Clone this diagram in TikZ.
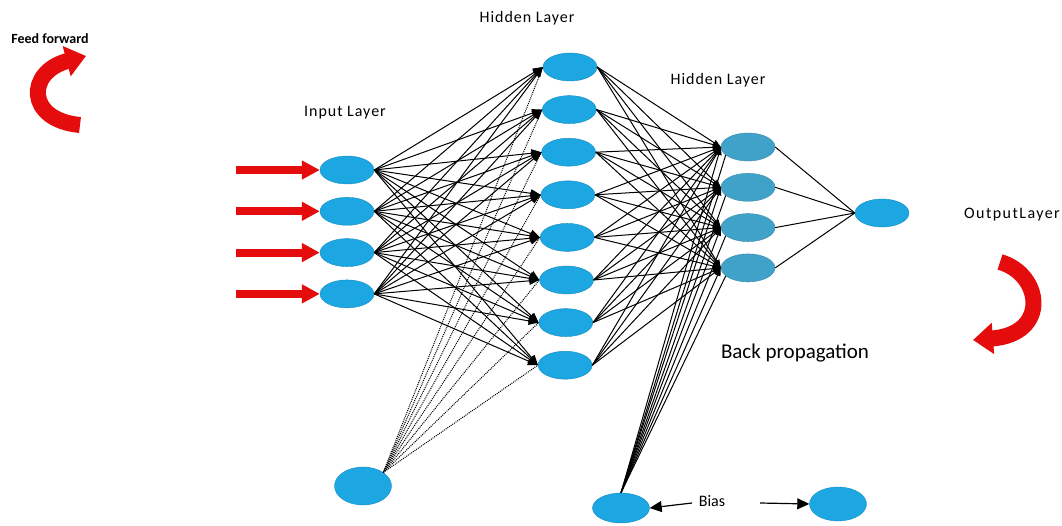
\documentclass[tikz,border=0pt]{standalone}
\usepackage{fontspec}
\setmainfont{Carlito}
\newfontfamily\spacedfont[LetterSpace=6]{Carlito}
\newfontfamily\widefont[LetterSpace=9]{Carlito}
\usetikzlibrary{arrows.meta,shapes.geometric}

\definecolor{neuronblue}{RGB}{28,166,226}
\definecolor{neuronteal}{RGB}{64,162,200}
\definecolor{flowred}{RGB}{228,12,12}

\tikzset{
  neuron/.style={ellipse, fill=neuronblue, draw=neuronblue!85!black, line width=0.4pt,
    minimum width=54pt, minimum height=28pt, inner sep=0pt},
  neurondark/.style={neuron, fill=neuronteal, draw=neuronteal!85!black},
  biasneuron/.style={neuron, minimum width=57pt, minimum height=34pt},
  layerlabel/.style={font=\spacedfont\fontsize{16}{18}\selectfont},
  link/.style={black, line width=1pt},
  linkarrow/.style={link, -{Triangle[width=8pt,length=10pt]}},
  smallarrow/.style={link, -{Triangle[width=6pt,length=8pt]}},
  inarrow/.style={flowred, line width=8pt, -{Triangle[width=18pt,length=18pt]}},
  bendarrow/.style={flowred, line width=16pt, -{Triangle[width=30pt,length=20pt]}}
}

\begin{document}
\begin{tikzpicture}[x=1pt,y=-1pt]
  \useasboundingbox (0,0) rectangle (1062,526);

  % Neuroni
  \foreach \i in {1,...,4} {
    \node[neuron] (in\i) at (347, {170+(\i-1)*41.3}) {};
  }
  \foreach \j in {1,...,8} {
    \node[neuron] (hA\j) at ({570-(\j-1)*0.7}, {67+(\j-1)*42.6}) {};
  }
  \foreach \k in {1,...,4} {
    \node[neurondark] (hB\k) at (748, {147+(\k-1)*40.3}) {};
  }
  \node[neuron] (out) at (882,213) {};
  \node[biasneuron, minimum height=38pt] (biasA) at (363,486) {};
  \node[biasneuron, minimum height=30pt] (biasB) at (621,508) {};
  \node[biasneuron] (biasC) at (838,504) {};

  % Collegamenti
  \foreach \i in {1,...,4} {
    \foreach \j in {1,...,8} {
      \draw[linkarrow] (in\i.east) -- (hA\j.west);
    }
  }
  \foreach \j in {1,...,8} {
    \foreach \k in {1,...,4} {
      \draw[smallarrow] (hA\j.east) -- (hB\k.west);
    }
    \draw[link, densely dotted] (biasA.north east) -- (hA\j.west);
  }
  \foreach \k in {1,...,4} {
    \draw[link] (hB\k.east) -- (out.west);
    \draw[smallarrow] (biasB.north) -- (hB\k.west);
    \draw[link] (biasB.north) -- (hB\k.200);
  }

  % Ingressi
  \foreach \i in {1,...,4} {
    \coordinate (src\i) at (236, {170+(\i-1)*41.3});
    \draw[inarrow] (src\i) -- (in\i.west);
  }

  % Bias
  \node (biaslabel) at (712,501) {\fontsize{16}{18}\selectfont Bias};
  \coordinate (biasL) at (692,503);
  \coordinate (biasR) at (760,503);
  \draw[link, line width=1.2pt, -{Triangle[width=11pt,length=12pt]}] (biasL) -- (biasB.east);
  \draw[link, line width=1.2pt, -{Triangle[width=11pt,length=12pt]}] (biasR) -- (biasC.west);

  % Etichette
  \node[layerlabel] (lblin) at (345,113) {Input Layer};
  \node[layerlabel] (lblhA) at (527,18) {Hidden Layer};
  \node[layerlabel] (lblhB) at (718,80) {Hidden Layer};
  \node[font=\widefont\fontsize{16}{18}\selectfont] (lblout) at (1012,215) {OutputLayer};
  \node[font=\fontsize{21}{24}\selectfont] (lblback) at (795,353) {Back propagation};
  \node[font=\bfseries\fontsize{14}{16}\selectfont] (lblfeed) at (50,39) {Feed forward};

  % Frecce curve
  \draw[bendarrow] (80,125) .. controls (26,120) and (26,72) .. (86,56);
  \draw[bendarrow] (1000,262) .. controls (1042,274) and (1050,334) .. (973,340);
\end{tikzpicture}
\end{document}
